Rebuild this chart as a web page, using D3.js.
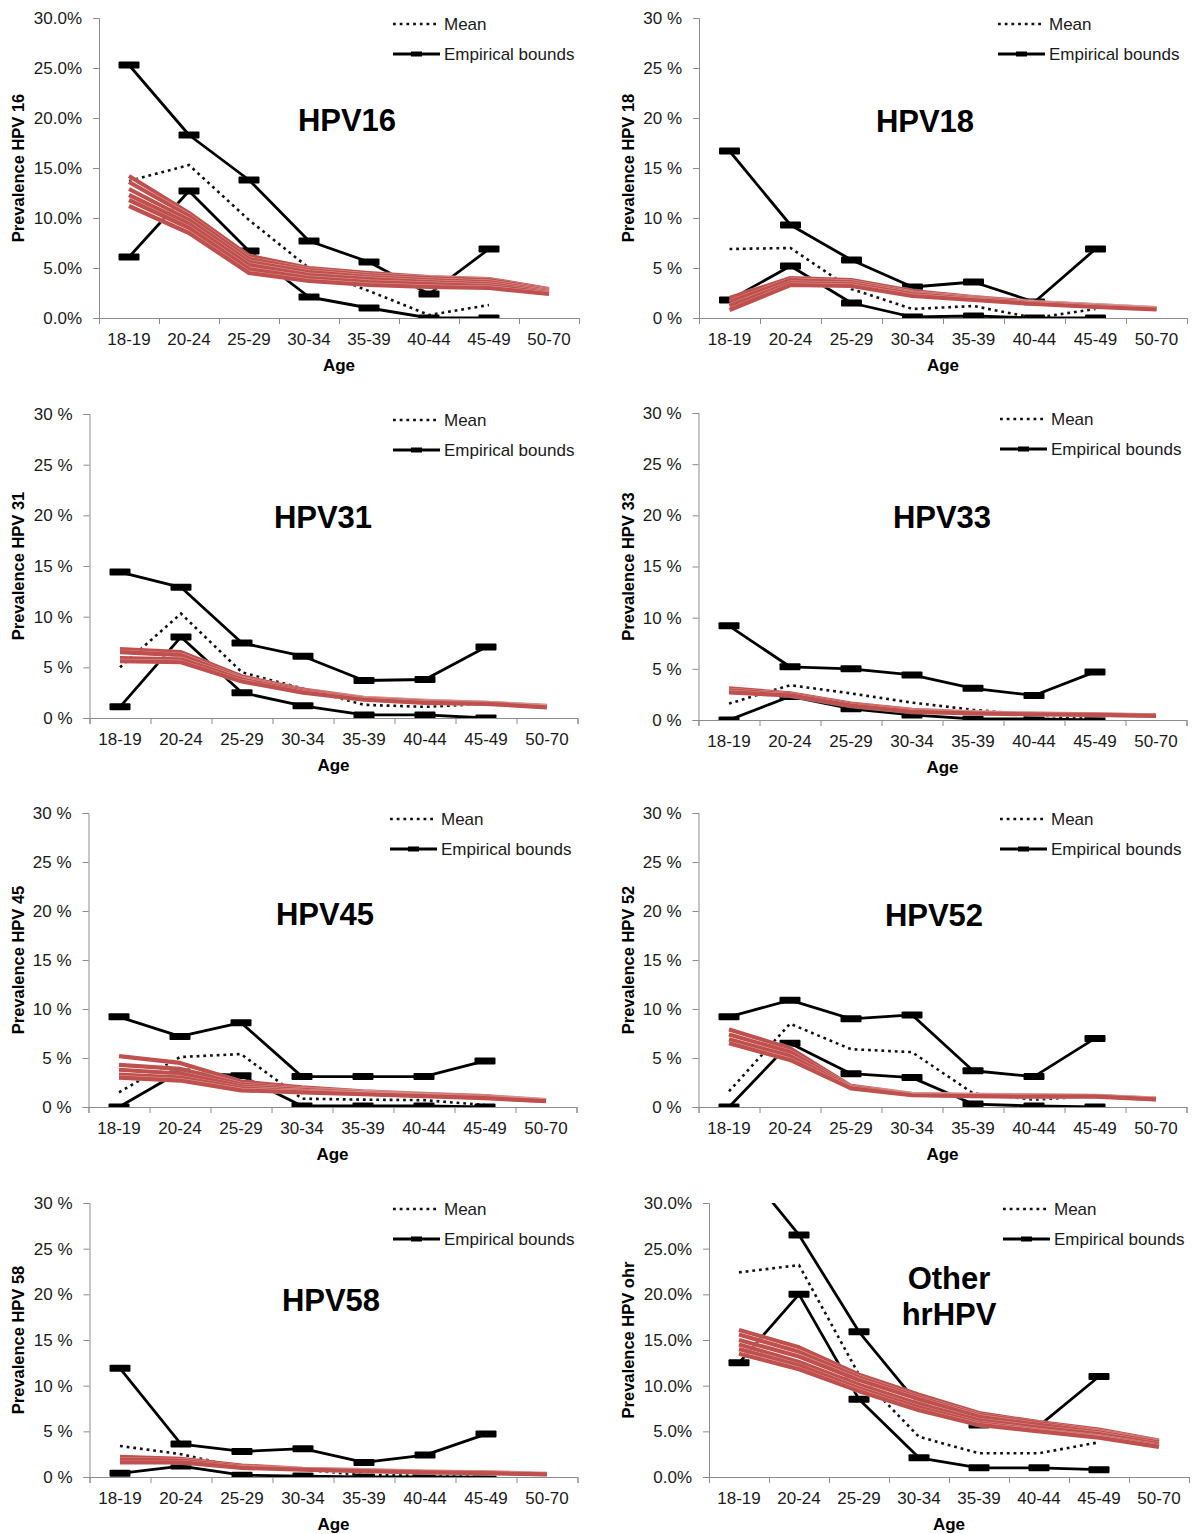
<!DOCTYPE html>
<html>
<head>
<meta charset="utf-8">
<title>HPV prevalence by age</title>
<script src="https://cdn.jsdelivr.net/npm/d3@7"></script>
<style>
  body { margin: 0; background: #fff; }
  svg { font-family: "Liberation Sans", Arial, sans-serif; }
</style>
</head>
<body>
<script>
// categories
const ages = ["18-19", "20-24", "25-29", "30-34", "35-39", "40-44", "45-49", "50-70"];

// values, in %
const hpv16Upper = [25.3, 18.3, 13.8, 7.7, 5.6, 2.4, 6.9];
const hpv16Lower = [6.1, 12.7, 6.7, 2.1, 1.0, 0.0, 0.0];
const hpv16Mean  = [13.7, 15.3, 9.8, 5.0, 2.7, 0.3, 1.3];
const hpv16Fits  = [
  [14.2, 10.5, 6.2, 5.0, 4.5, 4.1, 3.9, 2.9],
  [13.6, 10.2, 5.9, 4.8, 4.3, 4.0, 3.8, 2.8],
  [12.9, 9.8, 5.6, 4.6, 4.1, 3.8, 3.6, 2.7],
  [12.3, 9.4, 5.3, 4.3, 3.9, 3.6, 3.4, 2.6],
  [11.8, 9.0, 4.9, 4.0, 3.6, 3.4, 3.2, 2.5],
  [11.2, 8.5, 4.5, 3.7, 3.3, 3.1, 3.0, 2.4]
];

const hpv18Upper = [16.7, 9.3, 5.8, 3.1, 3.6, 1.6, 6.9];
const hpv18Lower = [1.8, 5.2, 1.5, 0.1, 0.2, 0.0, 0.0];
const hpv18Mean  = [6.9, 7.0, 2.9, 0.9, 1.2, 0.0, 0.9];
const hpv18Fits  = [
  [2.0, 4.0, 3.8, 2.7, 2.1, 1.6, 1.3, 1.0],
  [1.6, 3.8, 3.6, 2.5, 2.0, 1.5, 1.2, 0.95],
  [1.2, 3.5, 3.4, 2.4, 1.9, 1.5, 1.2, 0.9],
  [0.8, 3.3, 3.2, 2.2, 1.8, 1.4, 1.1, 0.85]
];

const hpv31Upper = [14.4, 12.9, 7.4, 6.1, 3.7, 3.8, 7.0];
const hpv31Lower = [1.1, 8.0, 2.5, 1.2, 0.3, 0.3, 0.0];
const hpv31Mean  = [5.0, 10.3, 4.5, 2.9, 1.3, 1.1, 1.4];
const hpv31Fits  = [
  [6.8, 6.5, 4.1, 2.8, 2.0, 1.7, 1.5, 1.2],
  [6.5, 6.2, 3.9, 2.7, 1.95, 1.65, 1.5, 1.15],
  [5.9, 5.8, 3.8, 2.6, 1.9, 1.6, 1.45, 1.1],
  [5.6, 5.5, 3.6, 2.5, 1.8, 1.5, 1.4, 1.05]
];

const hpv33Upper = [9.2, 5.2, 5.0, 4.4, 3.1, 2.4, 4.7];
const hpv33Lower = [0.0, 2.3, 1.1, 0.5, 0.1, 0.1, 0.0];
const hpv33Mean  = [1.6, 3.4, 2.6, 1.7, 1.0, 0.5, 0.1];
const hpv33Fits  = [
  [3.1, 2.6, 1.6, 1.0, 0.75, 0.62, 0.55, 0.45],
  [2.9, 2.5, 1.5, 0.9, 0.7, 0.6, 0.52, 0.42],
  [2.7, 2.4, 1.4, 0.8, 0.65, 0.56, 0.5, 0.4]
];

const hpv45Upper = [9.2, 7.2, 8.6, 3.1, 3.1, 3.1, 4.7];
const hpv45Lower = [0.0, 3.6, 3.2, 0.1, 0.1, 0.1, 0.0];
const hpv45Mean  = [1.5, 5.1, 5.4, 0.85, 0.75, 0.7, 0.2];
const hpv45Fits  = [
  [5.2, 4.5, 2.6, 2.0, 1.6, 1.35, 1.1, 0.7],
  [4.3, 3.9, 2.3, 1.85, 1.5, 1.3, 1.05, 0.68],
  [3.8, 3.4, 2.1, 1.75, 1.45, 1.2, 1.0, 0.65],
  [3.3, 3.0, 1.9, 1.6, 1.35, 1.15, 0.95, 0.62],
  [3.0, 2.7, 1.7, 1.5, 1.3, 1.1, 0.9, 0.6]
];

const hpv52Upper = [9.2, 10.9, 9.0, 9.4, 3.7, 3.1, 7.0];
const hpv52Lower = [0.0, 6.5, 3.4, 3.0, 0.3, 0.1, 0.0];
const hpv52Mean  = [1.6, 8.5, 5.9, 5.6, 1.4, 0.75, 1.1];
const hpv52Fits  = [
  [7.9, 6.0, 2.15, 1.35, 1.25, 1.2, 1.15, 0.85],
  [7.4, 5.6, 2.05, 1.3, 1.2, 1.15, 1.12, 0.82],
  [6.9, 5.2, 2.0, 1.25, 1.15, 1.1, 1.1, 0.8],
  [6.5, 4.8, 1.9, 1.2, 1.1, 1.05, 1.05, 0.78]
];

const hpv58Upper = [11.9, 3.6, 2.8, 3.1, 1.6, 2.4, 4.7];
const hpv58Lower = [0.4, 1.2, 0.2, 0.1, 0.0, 0.0, 0.0];
const hpv58Mean  = [3.4, 2.5, 1.0, 0.8, 0.2, 0.2, 0.2];
const hpv58Fits  = [
  [2.2, 2.0, 1.25, 0.9, 0.75, 0.6, 0.5, 0.35],
  [1.9, 1.8, 1.1, 0.85, 0.7, 0.55, 0.45, 0.3],
  [1.6, 1.6, 1.0, 0.8, 0.65, 0.5, 0.42, 0.28]
];

const ohrUpper = [34.6, 26.5, 15.9, 7.9, 5.7, 5.6, 11.0];
const ohrLower = [12.5, 20.0, 8.5, 2.1, 1.0, 1.0, 0.8];
const ohrMean  = [22.4, 23.2, 11.2, 4.4, 2.6, 2.6, 3.8];
const ohrFits  = [
  [16.1, 14.2, 11.2, 9.0, 7.0, 6.0, 5.2, 4.0],
  [15.6, 13.7, 10.9, 8.7, 6.8, 5.9, 5.0, 3.9],
  [15.0, 13.2, 10.6, 8.5, 6.6, 5.7, 4.9, 3.8],
  [14.5, 12.6, 10.1, 8.0, 6.2, 5.4, 4.7, 3.6],
  [14.0, 12.2, 9.7, 7.6, 5.9, 5.1, 4.4, 3.4],
  [13.5, 11.8, 9.4, 7.3, 5.7, 5.0, 4.3, 3.3]
];

const yTicks = [0, 5, 10, 15, 20, 25, 30];
const legendLabels = ["Mean", "Empirical bounds"];

// panel layout (pixel geometry only)
const panels = [
  {title: ["HPV16"], ylab: "Prevalence HPV 16", up: hpv16Upper, lo: hpv16Lower, mean: hpv16Mean, fits: hpv16Fits, dec: true,
   x0: 99, bw: 60, top: 18, bottom: 318, tx: 347, ty: 131, lx: 393, labx: 18},
  {title: ["HPV18"], ylab: "Prevalence HPV 18", up: hpv18Upper, lo: hpv18Lower, mean: hpv18Mean, fits: hpv18Fits, dec: false,
   x0: 699, bw: 61, top: 18, bottom: 318, tx: 925, ty: 132, lx: 998, labx: 628},
  {title: ["HPV31"], ylab: "Prevalence HPV 31", up: hpv31Upper, lo: hpv31Lower, mean: hpv31Mean, fits: hpv31Fits, dec: false,
   x0: 89.5, bw: 61, top: 414, bottom: 718, tx: 323, ty: 528, lx: 393, labx: 18},
  {title: ["HPV33"], ylab: "Prevalence HPV 33", up: hpv33Upper, lo: hpv33Lower, mean: hpv33Mean, fits: hpv33Fits, dec: false,
   x0: 698.5, bw: 61, top: 413, bottom: 720, tx: 942, ty: 528, lx: 1000, labx: 628},
  {title: ["HPV45"], ylab: "Prevalence HPV 45", up: hpv45Upper, lo: hpv45Lower, mean: hpv45Mean, fits: hpv45Fits, dec: false,
   x0: 88.5, bw: 61, top: 813, bottom: 1107, tx: 325, ty: 925, lx: 390, labx: 18},
  {title: ["HPV52"], ylab: "Prevalence HPV 52", up: hpv52Upper, lo: hpv52Lower, mean: hpv52Mean, fits: hpv52Fits, dec: false,
   x0: 698.5, bw: 61, top: 813, bottom: 1107, tx: 934, ty: 926, lx: 1000, labx: 628},
  {title: ["HPV58"], ylab: "Prevalence HPV 58", up: hpv58Upper, lo: hpv58Lower, mean: hpv58Mean, fits: hpv58Fits, dec: false,
   x0: 89.5, bw: 61, top: 1203, bottom: 1477, tx: 331, ty: 1311, lx: 393, labx: 18},
  {title: ["Other", "hrHPV"], ylab: "Prevalence HPV ohr", up: ohrUpper, lo: ohrLower, mean: ohrMean, fits: ohrFits, dec: true,
   x0: 709, bw: 60, top: 1203, bottom: 1477, tx: 949, ty: 1289, lx: 1003, labx: 628}
];

const red = "#C0504D",
      axisCol = "#8c8c8c",
      dots = "2.8,3.9";

var svg = d3.select("body").append("svg")
    .attr("width", 1196)
    .attr("height", 1534);

panels.forEach(function(p, k) {
    var g = svg.append("g");

    var x = d3.scaleBand().domain(ages).range([p.x0, p.x0 + p.bw * ages.length]).padding(0),
        xEdge = d3.scaleLinear().domain([0, ages.length]).range([p.x0, p.x0 + p.bw * ages.length]),
        y = d3.scaleLinear().domain([0, 30]).range([p.bottom, p.top]);
    var cx = function(d, i) { return x(ages[i]) + x.bandwidth() / 2; };

    // axes
    var yAxis = d3.axisLeft(y).tickValues(yTicks).tickSize(6).tickPadding(11)
        .tickFormat(function(v) { return p.dec ? v.toFixed(1) + "%" : v + " %"; });
    var ya = g.append("g").attr("transform", "translate(" + p.x0 + ",0)").call(yAxis);

    var xLabels = d3.axisBottom(x).tickSize(0).tickPadding(15);
    var xa = g.append("g").attr("transform", "translate(0," + p.bottom + ")").call(xLabels);
    var xTicks = d3.axisBottom(xEdge).tickValues(d3.range(ages.length + 1)).tickSize(6).tickFormat("");
    var xt = g.append("g").attr("transform", "translate(0," + p.bottom + ")").call(xTicks);

    [ya, xa, xt].forEach(function(a) {
        a.select(".domain").attr("stroke", axisCol);
        a.selectAll(".tick line").attr("stroke", axisCol);
        a.selectAll("text").attr("font-size", 17).attr("fill", "#1a1a1a")
            .attr("font-family", "'Liberation Sans', Arial, sans-serif");
    });
    xa.select(".domain").remove();

    // axis titles
    g.append("text")
        .attr("transform", "translate(" + (p.labx + 6) + "," + ((p.top + p.bottom) / 2) + ") rotate(-90)")
        .attr("text-anchor", "middle")
        .attr("font-size", 16.5).attr("font-weight", "bold")
        .text(p.ylab);
    g.append("text")
        .attr("x", p.x0 + p.bw * ages.length / 2)
        .attr("y", p.bottom + 53)
        .attr("text-anchor", "middle")
        .attr("font-size", 17).attr("font-weight", "bold")
        .text("Age");

    // panel title
    p.title.forEach(function(t, j) {
        g.append("text")
            .attr("x", p.tx).attr("y", p.ty + j * 36)
            .attr("text-anchor", "middle")
            .attr("font-size", 31).attr("font-weight", "bold")
            .text(t);
    });

    // plot area clip
    svg.append("clipPath").attr("id", "clip" + k)
        .append("rect")
        .attr("x", p.x0).attr("y", p.top)
        .attr("width", p.bw * ages.length).attr("height", p.bottom - p.top);
    var plot = g.append("g").attr("clip-path", "url(#clip" + k + ")");

    var line = d3.line().x(cx).y(function(d) { return y(d); });

    // mean (dotted)
    plot.append("path")
        .attr("d", line(p.mean))
        .attr("fill", "none").attr("stroke", "#111")
        .attr("stroke-width", 2.6).attr("stroke-dasharray", dots);

    // empirical bounds
    [p.up, p.lo].forEach(function(b) {
        plot.append("path")
            .attr("d", line(b))
            .attr("fill", "none").attr("stroke", "#000")
            .attr("stroke-width", 2.8).attr("stroke-linejoin", "round");
        plot.selectAll(null).data(b).enter().append("rect")
            .attr("x", function(d, i) { return cx(d, i) - 10.5; })
            .attr("y", function(d) { return y(d) - 3.5; })
            .attr("width", 21).attr("height", 7).attr("rx", 1)
            .attr("fill", "#000");
    });

    // model fits
    p.fits.forEach(function(f) {
        plot.append("path")
            .attr("d", line(f))
            .attr("fill", "none").attr("stroke", "#fff").attr("stroke-opacity", 0.45)
            .attr("stroke-width", 5).attr("stroke-linejoin", "round");
        plot.append("path")
            .attr("d", line(f))
            .attr("fill", "none").attr("stroke", red)
            .attr("stroke-width", 4.2).attr("stroke-linejoin", "round");
    });

    // legend
    var ly = p.top + 6;
    g.append("line")
        .attr("x1", p.lx).attr("x2", p.lx + 46).attr("y1", ly).attr("y2", ly)
        .attr("stroke", "#111").attr("stroke-width", 2.6).attr("stroke-dasharray", dots);
    g.append("text")
        .attr("x", p.lx + 51).attr("y", ly + 6)
        .attr("font-size", 17).attr("fill", "#1a1a1a")
        .text(legendLabels[0]);
    g.append("line")
        .attr("x1", p.lx).attr("x2", p.lx + 47).attr("y1", ly + 30).attr("y2", ly + 30)
        .attr("stroke", "#000").attr("stroke-width", 2.8);
    g.append("rect")
        .attr("x", p.lx + 18).attr("y", ly + 27.5).attr("width", 11).attr("height", 5)
        .attr("fill", "#000");
    g.append("text")
        .attr("x", p.lx + 51).attr("y", ly + 36)
        .attr("font-size", 17).attr("fill", "#1a1a1a")
        .text(legendLabels[1]);
});
</script>
</body>
</html>
